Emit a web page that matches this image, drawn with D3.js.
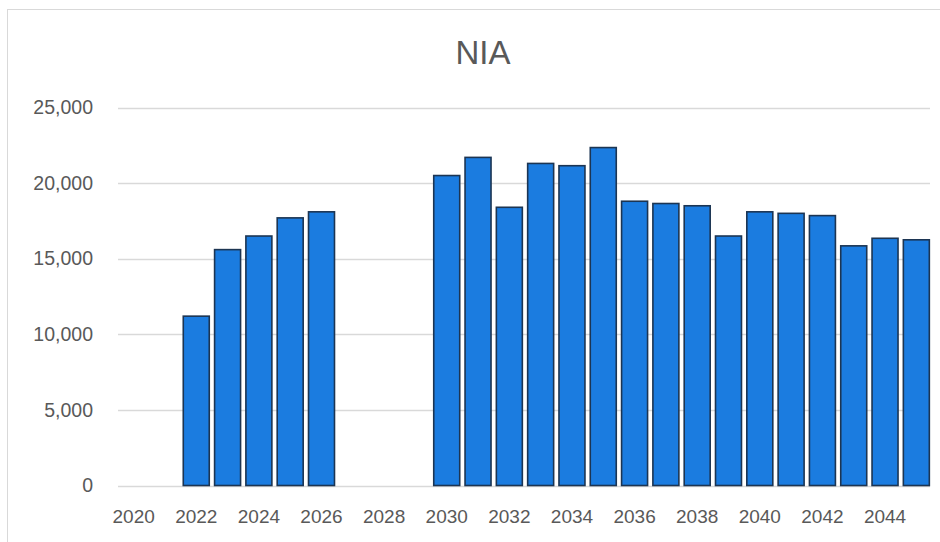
<!DOCTYPE html>
<html>
<head>
<meta charset="utf-8">
<script src="https://cdn.jsdelivr.net/npm/d3@7"></script>
<style>
  body { margin: 0; background: #fff; }
  svg { display: block; font-family: "Open Sans", "Liberation Sans", sans-serif; }
</style>
</head>
<body>
<svg></svg>
<script>
const [WIDTH, HEIGHT] = [940, 542]

const years = d3.range(2020, 2046)
const values = [null, null, 11200, 15600, 16500, 17700, 18100, null, null, null,
    20500, 21700, 18400, 21300, 21150, 22350, 18800, 18650, 18500, 16500,
    18100, 18000, 17850, 15850, 16350, 16250]
const yTicks = [0, 5000, 10000, 15000, 20000, 25000]
const xTickLabels = years.filter(y => y % 2 === 0)

const state = {}

function setupSvg() {
    state['svg'] = d3.select("svg")
        .attr("width", WIDTH)
        .attr("height", HEIGHT)
        .attr("viewBox", "0 0 " + WIDTH + " " + HEIGHT)
}

function main() {
    setupSvg()
    const svg = state['svg']

    // chart frame
    svg.append("rect")
        .attr("x", 7.5).attr("y", 9.5)
        .attr("width", 940).attr("height", 540)
        .attr("fill", "#fff")
        .attr("stroke", "#d9d9d9")

    svg.append("text")
        .attr("x", 483).attr("y", 64)
        .attr("text-anchor", "middle")
        .attr("font-family", "Liberation Sans, sans-serif")
        .attr("font-size", 33)
        .attr("fill", "#595959")
        .text("NIA")

    const x = d3.scaleBand().domain(years).range([118, 932]).paddingInner(0.17).paddingOuter(0.085)
    const y = d3.scaleLinear().domain([0, 25000]).range([485.5, 107.5])

    // gridlines
    svg.append("g")
        .selectAll("line")
        .data(yTicks)
        .enter()
        .append("line")
        .attr("x1", 118).attr("x2", 930)
        .attr("y1", d => Math.round(y(d)) + 0.5)
        .attr("y2", d => Math.round(y(d)) + 0.5)
        .attr("stroke", "#d9d9d9")
        .attr("stroke-width", 1.3)

    const yAxis = svg.append("g")
        .attr("transform", "translate(93,0)")
        .call(d3.axisLeft(y).tickValues(yTicks).tickSize(0).tickPadding(0).tickFormat(d3.format(",")))
    yAxis.select(".domain").remove()
    yAxis.selectAll("text").attr("font-size", 19.5).attr("fill", "#595959").attr("font-family", null)

    svg.append("g")
        .attr("id", "bars")
        .selectAll("rect")
        .data(years.map((yr, i) => ({ yr, v: values[i] })).filter(d => d.v !== null))
        .enter()
        .append("rect")
        .attr("x", d => x(d.yr))
        .attr("width", x.bandwidth())
        .attr("y", d => y(d.v))
        .attr("height", d => y(0) - y(d.v))
        .attr("fill", "#1b7ce0")
        .attr("stroke", "#1c3553")
        .attr("stroke-width", 1.6)

    const xAxis = svg.append("g")
        .attr("transform", "translate(0,523)")
        .call(d3.axisBottom(x).tickValues(xTickLabels).tickSize(0).tickPadding(0))
    xAxis.select(".domain").remove()
    xAxis.selectAll("text").attr("font-size", 19).attr("fill", "#595959").attr("font-family", null)
        .attr("dy", 0)
}

main()
</script>
</body>
</html>
